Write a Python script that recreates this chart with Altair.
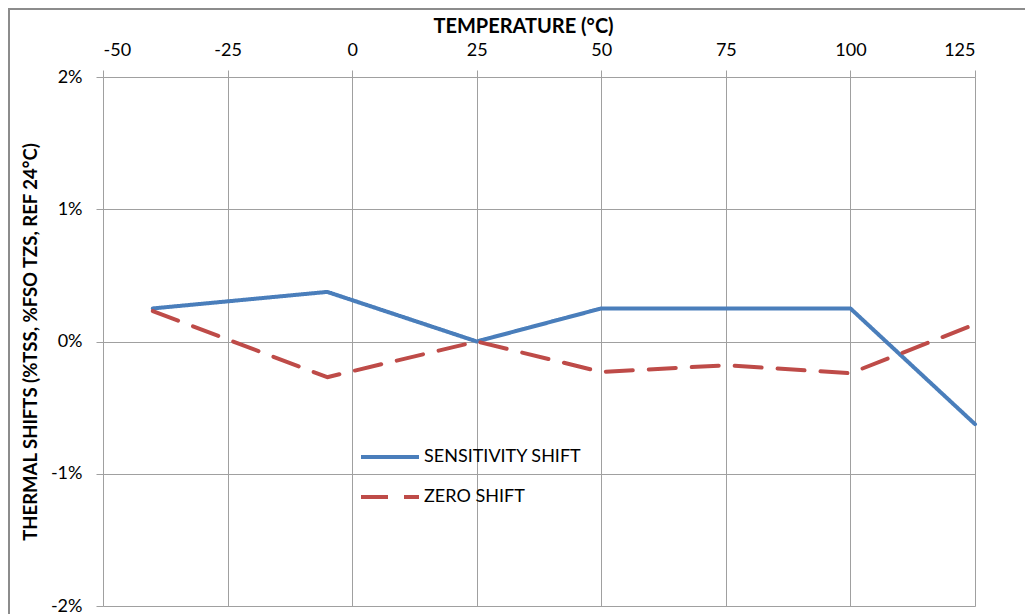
import altair as alt
import pandas as pd

temps = [-40, -5, 25, 50, 75, 100, 125]
sensitivity = [0.25, 0.375, 0.0, 0.25, 0.25, 0.25, -0.625]
zero_shift = [0.23, -0.27, 0.0, -0.23, -0.18, -0.24, 0.13]
series_names = ["SENSITIVITY SHIFT", "ZERO SHIFT"]
x_ticks = [-50, -25, 0, 25, 50, 75, 100, 125]
y_ticks = [-2, -1, 0, 1, 2]

rows = []
for t, v in zip(temps, sensitivity):
    rows.append({"temp": t, "shift": v, "series": series_names[0]})
for t, v in zip(temps, zero_shift):
    rows.append({"temp": t, "shift": v, "series": series_names[1]})
df = pd.DataFrame(rows)

W, H = 872, 529
FONT = "Lato"
GRID = "#a0a0a0"

legend = alt.Legend(
    title=None, orient="none", legendX=256, legendY=349,
    symbolType="stroke", symbolSize=3364, symbolStrokeWidth=4,
    labelFont=FONT, labelFontSize=18, labelColor="#000000",
    labelOffset=3, rowPadding=-18,
)

lines = alt.Chart(df).mark_line(strokeWidth=4, strokeCap="round", strokeJoin="round").encode(
    x=alt.X("temp:Q",
            scale=alt.Scale(domain=[-50, 125], nice=False, zero=False),
            axis=alt.Axis(orient="top", values=x_ticks, title="TEMPERATURE (°C)",
                          labelExpr="datum.value + ''", grid=True, gridColor=GRID,
                          tickColor=GRID, tickSize=7, domain=False,
                          labelFont=FONT, labelFontSize=18, labelColor="#000000",
                          labelPadding=11, titleFont=FONT, titleFontSize=20,
                          titleFontWeight="bold", titleColor="#000000", titlePadding=5,
                          titleX=420)),
    y=alt.Y("shift:Q",
            scale=alt.Scale(domain=[-2, 2], nice=False),
            axis=alt.Axis(values=y_ticks, title="THERMAL SHIFTS (%TSS, %FSO TZS, REF 24°C)",
                          labelExpr="datum.value + '%'", grid=True, gridColor=GRID,
                          tickColor=GRID, tickSize=7, domain=False,
                          labelFont=FONT, labelFontSize=18, labelColor="#000000",
                          labelPadding=14, titleFont=FONT, titleFontSize=18.5,
                          titleFontWeight="bold", titleColor="#000000", titlePadding=10)),
    color=alt.Color("series:N", scale=alt.Scale(domain=series_names, range=["#4A7EBB", "#BE4B48"]),
                    legend=legend),
    strokeDash=alt.StrokeDash("series:N", scale=alt.Scale(domain=series_names, range=[[1, 0], [27, 16]]),
                              legend=legend),
)

frame_df = pd.DataFrame({"k": [0]})
frame = alt.Chart(frame_df).mark_rect(filled=False, stroke="#8c8c8c", strokeWidth=2, clip=False).encode(
    x=alt.value(-94), x2=alt.value(W + 200), y=alt.value(-68), y2=alt.value(H + 200)
)

chart = alt.layer(frame, lines).properties(
    width=W, height=H,
    autosize=alt.AutoSizeParams(type="none"),
    padding={"left": 95, "top": 69, "right": 50, "bottom": 8},
).configure_view(strokeWidth=0).configure(background="#ffffff")

chart.save("out.html", embed_options={"renderer": "svg", "actions": False})
